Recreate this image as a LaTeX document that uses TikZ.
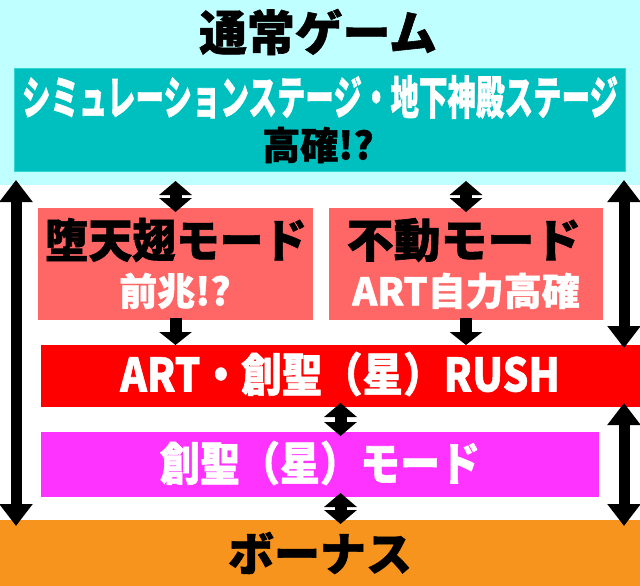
\documentclass[tikz,border=0pt]{standalone}
\usepackage{fontspec}
\newfontfamily\jpfont{Noto Sans CJK JP}[BoldFeatures={FakeBold=1.2}]
\usetikzlibrary{arrows.meta}
\definecolor{bandcyan}{HTML}{C0FFFF}
\definecolor{stageteal}{HTML}{00BFBF}
\definecolor{stageedge}{HTML}{33D6D6}
\definecolor{modesalmon}{HTML}{FF6666}
\definecolor{rushred}{HTML}{FF0000}
\definecolor{soseipink}{HTML}{FF33FF}
\definecolor{bonusorange}{HTML}{F7941D}

\begin{document}
\begin{tikzpicture}[x=1pt, y=-1pt,
  every node/.style={inner sep=0pt, outer sep=0pt},
  panel/.style={rectangle, minimum width=#1},
  big/.style={font=\jpfont\bfseries\fontsize{46}{46}\selectfont},
  mid/.style={font=\jpfont\bfseries\fontsize{38}{38}\selectfont},
  twoway/.style={line width=12pt, {Triangle[width=32pt,length=14pt]}-{Triangle[width=32pt,length=14pt]}, shorten <=-4pt, shorten >=-4pt},
  oneway/.style={line width=12pt, -{Triangle[width=32pt,length=13pt]}, shorten <=-2pt},
  longway/.style={line width=11pt, {Triangle[width=32pt,length=22pt]}-{Triangle[width=32pt,length=22pt]}, shorten <=-5pt, shorten >=-6pt}
]
\useasboundingbox (0,0) rectangle (640,586);

% panels
\node[panel=640pt, minimum height=185pt, fill=bandcyan] (normal) at (320,92.5) {};
\node[panel=611pt, minimum height=103pt, fill=stageteal, draw=stageedge, line width=1pt] (stage) at (320,120) {};
\node[panel=275pt, minimum height=112pt, fill=modesalmon] (datenshi) at (175.5,264) {};
\node[panel=274pt, minimum height=112pt, fill=modesalmon] (fudo) at (466,264) {};
\node[panel=599pt, minimum height=62pt, fill=rushred] (rush) at (340.5,376) {};
\node[panel=558pt, minimum height=65pt, fill=soseipink] (sosei) at (320,464.5) {};
\node[panel=640pt, minimum height=66pt, fill=bonusorange] (bonus) at (320,553) {};

% texts
\node[big, scale=1.04] (normaltitle) at (318,32) {通常ゲーム};
\node[big, xscale=0.62, text=white] (stagename) at (320,97) {シミュレーションステージ・地下神殿ステージ};
\node[mid] (stagehigh) at (318,145) {高確!?};
\node[big, xscale=0.95] (datenshiname) at (176,240) {堕天翅モード};
\node[mid, text=white] (datenshisign) at (175,291) {前兆!?};
\node[big, xscale=1.02] (fudoname) at (464,240) {不動モード};
\node[mid, text=white] (fudohigh) at (466,291) {ART自力高確};
\node[big, xscale=0.88, text=white] (rushname) at (340,374) {ART・創聖（星）RUSH};
\node[big, xscale=0.87, text=white] (soseiname) at (320,463) {創聖（星）モード};
\node[big] (bonusname) at (320,553) {ボーナス};

% arrows
\draw[twoway] (datenshi.north |- normal.south) -- (datenshi.north);
\draw[twoway] (fudo.north |- normal.south) -- (fudo.north);
\draw[oneway] (datenshi.south) -- (datenshi.south |- rush.north);
\draw[oneway] (fudo.south) -- (fudo.south |- rush.north);
\draw[twoway] (rush.south) -- (rush.south |- sosei.north);
\draw[twoway] (rush.south |- sosei.south) -- (rush.south |- bonus.north);
\coordinate (leftrail) at (16,0);
\coordinate (rightrail) at (624,0);
\draw[longway] (leftrail |- normal.south) -- (leftrail |- bonus.north);
\draw[longway, shorten >=-3pt] (rightrail |- normal.south) -- (rightrail |- rush.north);
\draw[longway, shorten <=-4pt] (rightrail |- rush.south) -- (rightrail |- bonus.north);
\end{tikzpicture}
\end{document}
